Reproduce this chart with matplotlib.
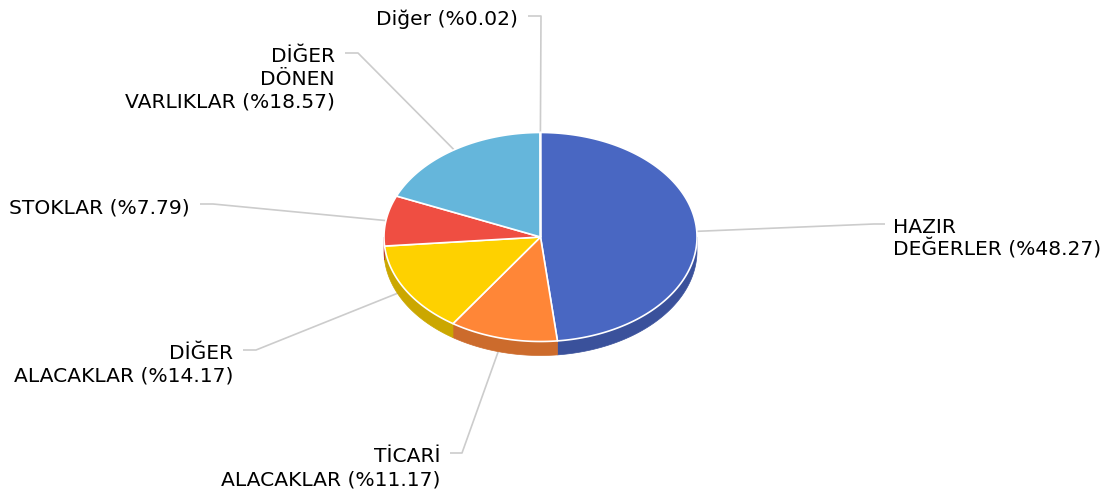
import numpy as np
import matplotlib
matplotlib.use("Agg")
import matplotlib.pyplot as plt
from matplotlib.patches import Polygon

# ---- data ----
names = ["HAZIR\nDEĞERLER", "TİCARİ\nALACAKLAR", "DİĞER\nALACAKLAR", "STOKLAR",
         "DİĞER\nDÖNEN\nVARLIKLAR", "Diğer"]
values = [48.27, 11.17, 14.17, 7.79, 18.57, 0.02]
colors = ["#4967C2", "#FF8637", "#FED100", "#EF4E42", "#65B6DB", "#3C3C9C"]
side_colors = ["#3A519B", "#CC6B2C", "#CBA700", "#BF3E35", "#5192AF", "#30307D"]

# ---- layout (pixels) ----
W, H = 1105, 496
cx, cy = 540.5, 237.0
rx, ry = 156.5, 104.5
depth = 14.0
# label elbow (x, y), horizontal end x, text side
label_layout = [
    ((874, 224), 885, "left"),
    ((462, 453), 450, "right"),
    ((256, 350), 243, "right"),
    ((213, 204), 200, "right"),
    ((358, 53), 345, "right"),
    ((541, 16), 528, "right"),
]
line_h = 23.0

fig = plt.figure(figsize=(W / 100, H / 100), dpi=100)
ax = fig.add_axes([0, 0, 1, 1])
ax.set_xlim(0, W)
ax.set_ylim(H, 0)
ax.axis("off")


def pt(theta, dy=0.0):
    return cx + rx * np.sin(theta), cy - ry * np.cos(theta) + dy


total = float(sum(values))
fracs = np.array(values) / total
starts = np.concatenate([[0], np.cumsum(fracs)[:-1]]) * 2 * np.pi
ends = np.cumsum(fracs) * 2 * np.pi

# sides (front half only: theta in [pi/2, 3pi/2])
for s, e, sc in zip(starts, ends, side_colors):
    a0, a1 = max(s, np.pi / 2), min(e, 3 * np.pi / 2)
    if a1 <= a0:
        continue
    th = np.linspace(a0, a1, 100)
    top = [pt(t) for t in th]
    bot = [pt(t, depth) for t in th[::-1]]
    ax.add_patch(Polygon(top + bot, closed=True, facecolor=sc,
                         edgecolor=sc, linewidth=0.5, zorder=2))

# tops
for s, e, c in zip(starts, ends, colors):
    th = np.linspace(s, e, max(3, int((e - s) * 80)))
    poly = [(cx, cy)] + [pt(t) for t in th]
    ax.add_patch(Polygon(poly, closed=True, facecolor=c,
                         edgecolor="white", linewidth=1.2, zorder=3,
                         joinstyle="round"))

# labels and connectors
for name, v, s, e, (elbow, endx, side) in zip(names, values, starts, ends, label_layout):
    mid = (s + e) / 2
    ax_, ay_ = pt(mid)
    ax.plot([ax_, elbow[0], endx], [ay_, elbow[1], elbow[1]],
            color="#CCCCCC", linewidth=1.2, zorder=1, solid_capstyle="butt")
    text = f"{name} (%{v:.2f})"
    lines = text.split("\n")
    tx = endx - 10 if side == "right" else endx + 8
    for i, ln in enumerate(lines):
        yb = elbow[1] + 2 + i * line_h + 7
        ax.text(tx, yb, ln, ha=side, va="baseline", fontsize=14.6,
                family="DejaVu Sans", color="#000000", zorder=5)

fig.savefig("out.png", dpi=100, facecolor="white")
